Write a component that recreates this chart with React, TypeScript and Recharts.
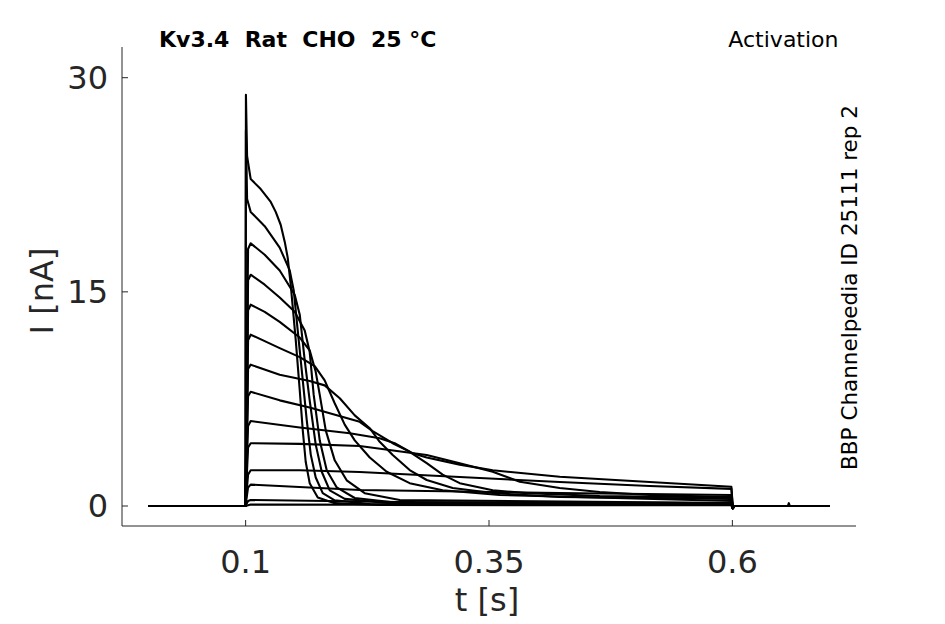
import React from 'react';
import { LineChart, Line, XAxis, YAxis } from 'recharts';

type Pt = [number, number];

// t [s], I [nA] read from the recording: holding level, then the step
const preStep: Pt[] = [[0, 0], [0.0998, 0]];
const postStep: Pt[] = [[0.6005, -0.16], [0.602, 0], [0.7, 0]];
const postStepBump: Pt[] = [[0.6005, -0.16], [0.602, 0], [0.657, 0], [0.658, 0.2], [0.659, 0], [0.7, 0]];

const trace1: Pt[] = [[0.1003, 28.8], [0.1015, 24.5], [0.1052, 22.9], [0.1155, 22.2], [0.1258, 21.3], [0.1309, 20.6], [0.136, 19.7], [0.1402, 18.5], [0.1432, 17.4], [0.1463, 15.5], [0.1515, 11.6], [0.1556, 8.1], [0.1587, 5.3], [0.1617, 3.1], [0.1658, 1.6], [0.1741, 0.6], [0.1915, 0.2], [0.2377, 0.07], [0.599, 0.05]];
const trace2: Pt[] = [[0.1003, 26.3], [0.1015, 21.5], [0.1052, 20.6], [0.1196, 19.6], [0.135, 18.1], [0.1453, 16.5], [0.1494, 15.1], [0.1535, 12.3], [0.1587, 8.8], [0.1628, 6.0], [0.1669, 3.6], [0.172, 2.0], [0.1792, 0.9], [0.1915, 0.4], [0.2275, 0.14], [0.599, 0.07]];
const trace3: Pt[] = [[0.1025, 18.0], [0.1052, 18.4], [0.1196, 17.6], [0.135, 16.5], [0.1504, 14.8], [0.1556, 13.4], [0.1607, 10.2], [0.1658, 7.4], [0.172, 4.3], [0.1782, 2.4], [0.1864, 1.1], [0.2018, 0.5], [0.2479, 0.2], [0.599, 0.1]];
const trace4: Pt[] = [[0.1025, 15.8], [0.1052, 16.2], [0.1196, 15.5], [0.135, 14.6], [0.1504, 13.6], [0.1607, 12.3], [0.1658, 10.8], [0.1699, 7.8], [0.1761, 4.6], [0.1833, 2.5], [0.1936, 1.3], [0.2121, 0.56], [0.2583, 0.21], [0.599, 0.14]];
const trace5: Pt[] = [[0.1025, 13.7], [0.1052, 14.1], [0.1196, 13.6], [0.135, 12.9], [0.1556, 11.8], [0.1658, 10.9], [0.172, 9.4], [0.1761, 7.8], [0.1823, 5.3], [0.1915, 3.2], [0.2038, 1.8], [0.2223, 0.9], [0.2583, 0.42], [0.599, 0.21]];
const trace6: Pt[] = [[0.1025, 11.6], [0.1052, 12.0], [0.1196, 11.55], [0.135, 11.06], [0.1556, 10.43], [0.171, 9.8], [0.1812, 8.8], [0.1915, 7.2], [0.2018, 5.7], [0.2121, 4.6], [0.2275, 3.4], [0.2449, 2.4], [0.2685, 1.6], [0.3024, 1.1], [0.361, 0.77], [0.599, 0.35]];
const trace7: Pt[] = [[0.1025, 9.6], [0.1052, 9.9], [0.135, 9.2], [0.1658, 8.75], [0.1812, 8.45], [0.1967, 7.55], [0.2121, 6.35], [0.2275, 5.45], [0.2377, 4.5], [0.2511, 3.57], [0.2685, 2.52], [0.286, 1.82], [0.3127, 1.26], [0.3538, 0.91], [0.4226, 0.63], [0.599, 0.5]];
const trace8: Pt[] = [[0.1025, 7.7], [0.1052, 8.0], [0.135, 7.4], [0.1658, 6.9], [0.1864, 6.5], [0.2172, 5.9], [0.2305, 5.25], [0.2511, 4.4], [0.2716, 3.7], [0.286, 3.4], [0.3199, 2.9], [0.3538, 2.5], [0.4226, 2.05], [0.5151, 1.68], [0.599, 1.35]];
const trace9: Pt[] = [[0.1025, 5.6], [0.1052, 5.95], [0.1556, 5.5], [0.2069, 5.1], [0.2377, 4.75], [0.2531, 4.4], [0.2685, 3.8], [0.286, 3.0], [0.3024, 2.2], [0.3199, 1.6], [0.3538, 1.1], [0.3887, 0.9], [0.4637, 0.7], [0.599, 0.6]];
const trace10: Pt[] = [[0.1025, 4.1], [0.1052, 4.4], [0.1556, 4.35], [0.2172, 4.2], [0.286, 3.57], [0.3199, 3.0], [0.3538, 2.4], [0.3816, 1.7], [0.4226, 1.26], [0.4637, 0.98], [0.5151, 0.77], [0.599, 0.63]];
const trace11: Pt[] = [[0.1025, 2.2], [0.1052, 2.5], [0.1556, 2.5], [0.2172, 2.38], [0.3199, 2.03], [0.4226, 1.68], [0.5151, 1.4], [0.599, 1.2]];
const trace12: Pt[] = [[0.1025, 1.3], [0.1052, 1.5], [0.2172, 1.12], [0.4226, 0.91], [0.599, 0.77]];
const trace13: Pt[] = [[0.1025, 0.35], [0.1052, 0.42], [0.2583, 0.28], [0.599, 0.21]];
const trace14: Pt[] = [[0.1052, 0.1], [0.599, 0.08]];

const stepTraces = [trace1, trace2, trace3, trace4, trace5, trace6, trace7, trace8, trace9, trace10, trace11, trace12, trace13, trace14];

const xTicks = [0.1, 0.35, 0.6];
const yTicks = [0, 15, 30];

const FONT = 'DejaVu Sans';
const INK = '#262626';

const series = stepTraces.map((tr, k) =>
  [...preStep, ...tr, ...(k === 0 ? postStepBump : postStep)].map(([t, i]) => ({ t, i }))
);

export default function App() {
  return (
    <div style={{ position: 'absolute', left: 0, top: 0, width: 945, height: 624, background: '#fff' }}>
      <LineChart width={945} height={624} margin={{ top: 47, right: 89, bottom: 38, left: 60 }}>
        <XAxis
          type="number"
          dataKey="t"
          domain={[-0.027, 0.727]}
          allowDataOverflow
          ticks={xTicks}
          height={60}
          tickSize={-6}
          tickMargin={30}
          axisLine={{ stroke: INK }}
          tickLine={{ stroke: INK }}
          tick={{ fill: INK, fontSize: 32, fontFamily: FONT }}
        />
        <YAxis
          type="number"
          domain={[-1.4, 32.15]}
          allowDataOverflow
          ticks={yTicks}
          width={62}
          tickSize={-6}
          tickMargin={20}
          axisLine={{ stroke: INK }}
          tickLine={{ stroke: INK }}
          tick={{ fill: INK, fontSize: 32, fontFamily: FONT }}
        />
        {series.map((d, k) => (
          <Line
            key={k}
            data={d}
            dataKey="i"
            type="linear"
            stroke="#000"
            strokeWidth={2.1}
            strokeLinejoin="round"
            dot={false}
            activeDot={false}
            isAnimationActive={false}
          />
        ))}
      </LineChart>
      <svg width={945} height={624} style={{ position: 'absolute', left: 0, top: 0, pointerEvents: 'none' }}>
        <text x={159} y={47} fontFamily={FONT} fontSize={22} fontWeight="bold" fill="#000" style={{ whiteSpace: 'pre' }}>
          {'Kv3.4  Rat  CHO  25 °C'}
        </text>
        <text x={838.5} y={46.5} fontFamily={FONT} fontSize={22} fill="#000" textAnchor="end">
          Activation
        </text>
        <text transform="translate(857,287.5) rotate(-90)" fontFamily={FONT} fontSize={21.5} fill="#000" textAnchor="middle">
          BBP Channelpedia ID 25111 rep 2
        </text>
        <text transform="translate(53,291) rotate(-90)" fontFamily={FONT} fontSize={32} fill={INK} textAnchor="middle">
          I [nA]
        </text>
        <text x={487} y={611} fontFamily={FONT} fontSize={32} fill={INK} textAnchor="middle">
          t [s]
        </text>
      </svg>
    </div>
  );
}
